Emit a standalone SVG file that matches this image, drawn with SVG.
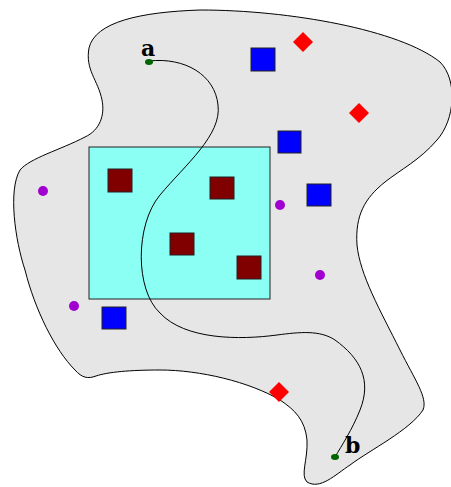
<svg xmlns="http://www.w3.org/2000/svg" width="451" height="487" viewBox="0 0 451 487">
<style>
.blob{fill:#e6e6e6;stroke:#000;stroke-width:1}
.rect{fill:#8cfff4;stroke:#222;stroke-width:1}
.dr{fill:#800000;stroke:#222;stroke-width:1}
.bl{fill:#0000ff;stroke:#222;stroke-width:1}
.dm{fill:#ff0000}
.pc{fill:#a000d0}
.gd{fill:#006400}
.lnk{fill:none;stroke:#000;stroke-width:1}
.lbl{font-family:"DejaVu Serif",serif;font-weight:bold;font-size:22px;fill:#000}
</style>
<g id="region">
<path class="blob" d="M 89,48 C 95,22 140,12 200,10 C 290,10 400,30 440,62 C 458,80 455,120 437,140 C 420,160 400,170 385,182 C 365,198 355,215 357,245 C 360,275 380,310 400,350 C 415,380 428,398 423,410 C 410,430 370,450 350,465 C 335,475 320,490 307,482 C 300,475 308,460 307,440 C 305,420 295,410 280,400 C 250,382 200,370 160,370 C 130,370 108,372 96,376 C 88,379 82,378 75,370 C 55,350 35,310 25,270 C 15,240 8,190 20,170 C 30,158 60,150 85,137 C 100,130 105,115 102,100 C 98,80 85,70 89,48 Z"/>
</g>
<g id="subregion">
<rect class="rect" x="89" y="147" width="181" height="152"/>
</g>
<g id="connectors">
<path class="lnk" d="M 149,61 C 185,57 215,75 218,105 C 222,135 185,165 160,195 C 135,225 135,290 160,313 C 185,340 240,340 277,335 C 300,332 320,330 335,340 C 360,358 372,380 360,410 C 352,430 342,445 335,457"/>
</g>
<g id="darkred">
<rect class="dr" x="108" y="169" width="24" height="23"/>
<rect class="dr" x="210" y="177" width="24" height="22"/>
<rect class="dr" x="170" y="233" width="24" height="22"/>
<rect class="dr" x="237" y="256" width="24" height="23"/>
</g>
<g id="blue">
<rect class="bl" x="251" y="48" width="24" height="23"/>
<rect class="bl" x="278" y="131" width="23" height="22"/>
<rect class="bl" x="307" y="184" width="24" height="22"/>
<rect class="bl" x="102" y="307" width="24" height="22"/>
</g>
<g id="diamonds">
<polygon class="dm" points="303,32 313,42 303,52 293,42"/>
<polygon class="dm" points="359,103 369,113 359,123 349,113"/>
<polygon class="dm" points="279,382 289,392 279,402 269,392"/>
</g>
<g id="circles">
<circle class="pc" cx="43" cy="191" r="5"/>
<circle class="pc" cx="280" cy="205" r="5"/>
<circle class="pc" cx="74" cy="306" r="5"/>
<circle class="pc" cx="320" cy="275" r="5"/>
</g>
<g id="node-a">
<ellipse class="gd" cx="149" cy="62" rx="4" ry="3"/>
<text class="lbl" x="141" y="56">a</text>
</g>
<g id="node-b">
<ellipse class="gd" cx="335" cy="457" rx="4" ry="3"/>
<text class="lbl" x="345" y="453">b</text>
</g>
</svg>
